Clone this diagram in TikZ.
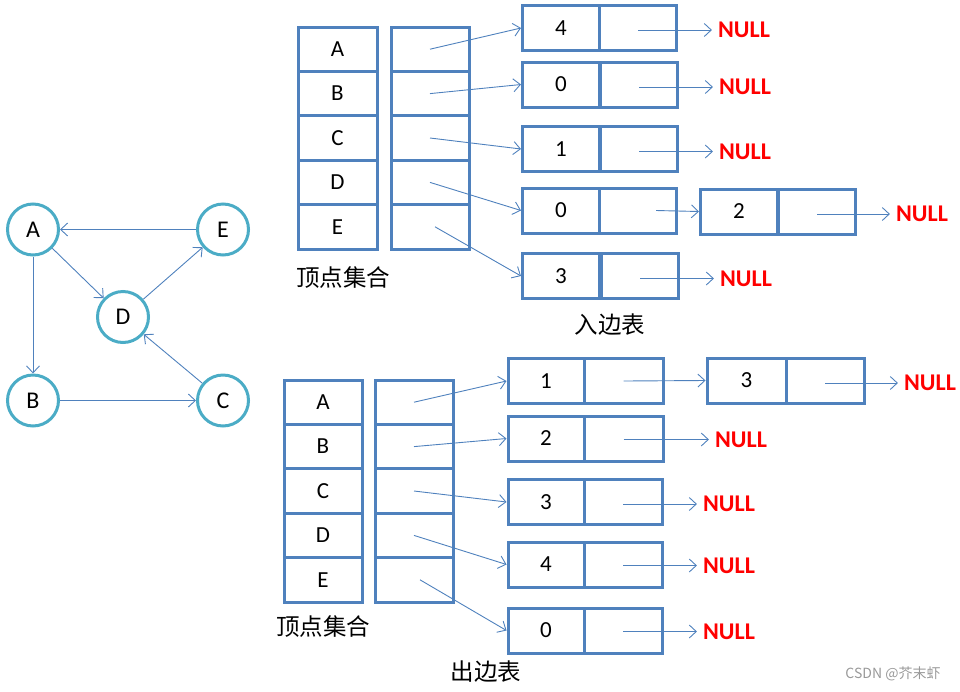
\documentclass[tikz,border=0pt]{standalone}
\usepackage{fontspec}
\setmainfont{Carlito}
\newfontfamily\cjk{Noto Sans CJK SC}
\usetikzlibrary{calc, arrows.meta}
\definecolor{boxblue}{RGB}{79,129,189}
\definecolor{ringteal}{RGB}{75,172,198}
\definecolor{nullred}{RGB}{255,0,0}

\begin{document}
\begin{tikzpicture}[x=1pt, y=-1pt, >={Straight Barb[length=7pt,width=13pt]}]
	\tikzstyle{vertex}=[circle, draw=ringteal, line width=3pt, minimum size=51pt,
	inner sep=0pt, font=\fontsize{24}{26}\selectfont]
	\tikzstyle{cell}=[rectangle, draw=boxblue, line width=3pt, minimum width=79pt,
	minimum height=44.4pt, inner sep=0pt, font=\fontsize{23}{25}\selectfont]
	\tikzstyle{listcell}=[cell, minimum width=77pt, minimum height=45pt]
	\tikzstyle{nulltext}=[text=nullred, inner sep=6pt,
	font=\fontsize{24}{26}\selectfont\bfseries]
	\tikzstyle{link}=[boxblue, line width=0.9pt, ->]
	\tikzstyle{tablename}=[font=\cjk\fontsize{23.5}{25}\selectfont]

	\useasboundingbox (0,0) rectangle (960,691);

	% the graph
	\node[vertex] at (33,229.5) (A) {A};
	\node[vertex] at (223,229.5) (E) {E};
	\node[vertex] at (123,317) (D) {D};
	\node[vertex] at (33,400.5) (B) {B};
	\node[vertex] at (223,400.5) (C) {C};

	\draw[link] (E) -- (A);
	\draw[link] (A) -- (D);
	\draw[link] (A) -- (B);
	\draw[link] (B) -- (C);
	\draw[link] (C) -- (D);
	\draw[link] (D) -- (E);

	% in-edge table
	\node[cell] at (337.5,49.2) (tvA) {A};
	\node[cell] at (337.5,93.6) (tvB) {B};
	\node[cell] at (337.5,138) (tvC) {C};
	\node[cell] at (337.5,182.4) (tvD) {D};
	\node[cell] at (337.5,226.8) (tvE) {E};
	\node[cell, minimum width=78pt] at (430,49.2) (tpA) {};
	\node[cell, minimum width=78pt] at (430,93.6) (tpB) {};
	\node[cell, minimum width=78pt] at (430,138) (tpC) {};
	\node[cell, minimum width=78pt] at (430,182.4) (tpD) {};
	\node[cell, minimum width=78pt] at (430,226.8) (tpE) {};

	\node[listcell] at (561,28) (in1v) {4};
	\node[listcell] at (638,28) (in1p) {};
	\node[listcell] at (561,84.5) (in2v) {0};
	\node[listcell] at (639,84.5) (in2p) {};
	\node[listcell] at (561,149) (in3v) {1};
	\node[listcell] at (639,149) (in3p) {};
	\node[listcell] at (561,210.5) (in4v) {0};
	\node[listcell] at (638,210.5) (in4p) {};
	\node[listcell] at (739,211.5) (in4bv) {2};
	\node[listcell] at (817,211.5) (in4bp) {};
	\node[listcell] at (561,276) (in5v) {3};
	\node[listcell] at (640,276) (in5p) {};

	\node[nulltext] at (744,30) (in1n) {NULL};
	\node[nulltext] at (745,87) (in2n) {NULL};
	\node[nulltext] at (745,151.5) (in3n) {NULL};
	\node[nulltext] at (922,214) (in4n) {NULL};
	\node[nulltext] at (746,278.5) (in5n) {NULL};

	\draw[link] (tpA.center) -- (in1v.west);
	\draw[link] (tpB.center) -- (in2v.west);
	\draw[link] (tpC.center) -- (in3v.west);
	\draw[link] (tpD.center) -- (in4v.west);
	\draw[link] ([xshift=5pt]tpE.center) -- (in5v.west);

	\draw[link] (in1p.center |- in1n.west) -- (in1n.west);
	\draw[link] (in2p.center |- in2n.west) -- (in2n.west);
	\draw[link] (in3p.center |- in3n.west) -- (in3n.west);
	\draw[link] ([xshift=18pt]in4p.center) -- (in4bv.west);
	\draw[link] (in4bp.center |- in4n.west) -- (in4n.west);
	\draw[link] (in5p.center |- in5n.west) -- (in5n.west);

	\node[tablename] at (343,278) (tname) {顶点集合};
	\node[tablename] at (610,325) (inname) {入边表};

	% out-edge table
	\node[cell, minimum width=78pt] at (323,402.2) (bvA) {A};
	\node[cell, minimum width=78pt] at (323,446.6) (bvB) {B};
	\node[cell, minimum width=78pt] at (323,491) (bvC) {C};
	\node[cell, minimum width=78pt] at (323,535.4) (bvD) {D};
	\node[cell, minimum width=78pt] at (323,579.8) (bvE) {E};
	\node[cell, minimum width=78pt] at (414,402.2) (bpA) {};
	\node[cell, minimum width=78pt] at (414,446.6) (bpB) {};
	\node[cell, minimum width=78pt] at (414,491) (bpC) {};
	\node[cell, minimum width=78pt] at (414,535.4) (bpD) {};
	\node[cell, minimum width=78pt] at (414,579.8) (bpE) {};

	\node[listcell, minimum width=76pt] at (546,381) (out1v) {1};
	\node[listcell, minimum width=79pt] at (623.5,381) (out1p) {};
	\node[listcell, minimum width=79pt] at (746.5,380.5) (out1bv) {3};
	\node[listcell, minimum width=78pt] at (825,380.5) (out1bp) {};
	\node[listcell, minimum width=76pt] at (546,438.5) (out2v) {2};
	\node[listcell, minimum width=79pt] at (623.5,438.5) (out2p) {};
	\node[listcell, minimum width=76pt] at (546,502) (out3v) {3};
	\node[listcell, minimum width=78pt] at (623,502) (out3p) {};
	\node[listcell, minimum width=76pt] at (546,564.5) (out4v) {4};
	\node[listcell, minimum width=78pt] at (623,564.5) (out4p) {};
	\node[listcell, minimum width=76pt] at (546,630.5) (out5v) {0};
	\node[listcell, minimum width=78pt] at (623,630.5) (out5p) {};

	\node[nulltext] at (930,383) (out1n) {NULL};
	\node[nulltext] at (741,439.5) (out2n) {NULL};
	\node[nulltext] at (729,504) (out3n) {NULL};
	\node[nulltext] at (729,565.5) (out4n) {NULL};
	\node[nulltext] at (729,631.5) (out5n) {NULL};

	\draw[link] (bpA.center) -- (out1v.west);
	\draw[link] (bpB.center) -- (out2v.west);
	\draw[link] (bpC.center) -- (out3v.west);
	\draw[link] (bpD.center) -- (out4v.west);
	\draw[link] ([xshift=6pt]bpE.center) -- (out5v.west);

	\draw[link] (out1p.center) -- (out1bv.west);
	\draw[link] (out1bp.center |- out1n.west) -- (out1n.west);
	\draw[link] (out2p.center |- out2n.west) -- (out2n.west);
	\draw[link] (out3p.center |- out3n.west) -- (out3n.west);
	\draw[link] (out4p.center |- out4n.west) -- (out4n.west);
	\draw[link] (out5p.center |- out5n.west) -- (out5n.west);

	\node[tablename] at (323,627) (bname) {顶点集合};
	\node[tablename] at (486,672) (outname) {出边表};

	\node[text=gray!80, font=\cjk\fontsize{14}{16}\selectfont] at (893,674) (wm) {CSDN @芥末虾};
\end{tikzpicture}
\end{document}
